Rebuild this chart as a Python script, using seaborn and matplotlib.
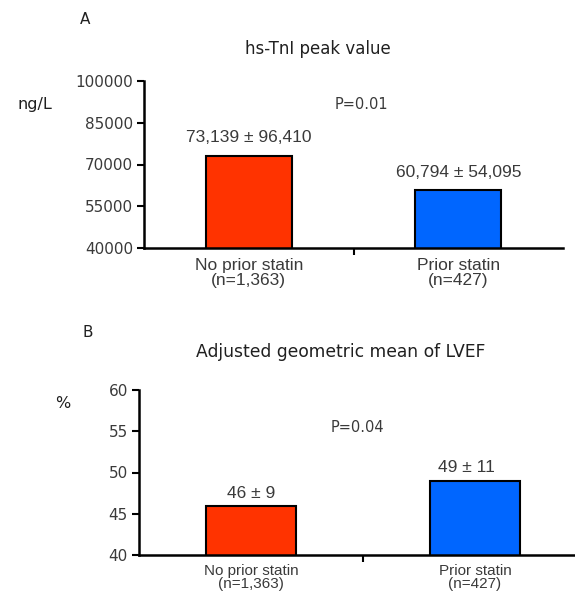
import matplotlib
matplotlib.use("Agg")
import matplotlib.pyplot as plt
import seaborn as sns
import pandas as pd

categories = ["No prior statin\n(n=1,363)", "Prior statin\n(n=427)"]
tnI_values = [73139, 60794]
tnI_labels = ["73,139 ± 96,410", "60,794 ± 54,095"]
lvef_values = [46, 49]
lvef_labels = ["46 ± 9", "49 ± 11"]
tnI_ticks = [40000, 55000, 70000, 85000, 100000]
lvef_ticks = [40, 45, 50, 55, 60]
colors = ["#FF3300", "#0066FF"]

sns.set_theme(style="white")
plt.rcParams['font.family'] = ['DejaVu Sans']

fig = plt.figure(figsize=(5.75, 5.94), dpi=100)
axA = fig.add_axes([144/575, 1-248/594, 419/575, 167/594])
axB = fig.add_axes([139/575, 1-555/594, 448/575, 165/594])

tick_col = "#3a3a3a"
lab_font = ['Liberation Sans', 'DejaVu Sans']

def style(ax, ticks, lo, hi, catsize, ls, pad):
    ax.set_ylim(lo, hi)
    ax.set_xlim(-0.5, 1.5)
    ax.set_yticks(ticks)
    ax.set_yticklabels([str(t) for t in ticks], fontsize=11, color=tick_col)
    for s in ["top", "right"]:
        ax.spines[s].set_visible(False)
    for s in ["left", "bottom"]:
        ax.spines[s].set_color("black")
        ax.spines[s].set_linewidth(1.8)
    ax.tick_params(axis="y", left=True, length=5, width=1.5, color="black", pad=3)
    ax.set_xticks([0, 1])
    ax.set_xticklabels(categories, fontsize=catsize, color=tick_col, family=lab_font, linespacing=ls)
    ax.tick_params(axis="x", bottom=False, pad=pad)
    ax.set_xticks([0.5], minor=True)
    ax.tick_params(axis="x", which="minor", bottom=True, length=5, width=1.5, color="black", direction="out")
    ax.set_xlabel("")
    ax.set_ylabel("")
    ax.grid(False)

dfA = pd.DataFrame({"cat": categories, "val": tnI_values})
sns.barplot(data=dfA, x="cat", y="val", hue="cat", palette=colors, ax=axA, saturation=1,
            width=0.41, edgecolor="black", linewidth=1.5, legend=False)
style(axA, tnI_ticks, 40000, 100000, 12.5, 1.05, 1)
for i, t in enumerate(tnI_labels):
    axA.text(i, tnI_values[i] + 6500, t, ha="center", va="center", fontsize=12.5,
             color=tick_col, family=lab_font)
axA.text(0.536, 91400, "P=0.01", ha="center", va="center", fontsize=10.5, color=tick_col)

dfB = pd.DataFrame({"cat": categories, "val": lvef_values})
sns.barplot(data=dfB, x="cat", y="val", hue="cat", palette=colors, ax=axB, saturation=1,
            width=0.40, edgecolor="black", linewidth=1.5, legend=False)
style(axB, lvef_ticks, 40, 60, 11, 0.9, 0.5)
axB.text(0, 47.5, lvef_labels[0], ha="center", va="center", fontsize=12.5, color=tick_col, family=lab_font)
axB.text(0.96, 50.6, lvef_labels[1], ha="center", va="center", fontsize=12.5, color=tick_col, family=lab_font)
axB.text(0.473, 55.5, "P=0.04", ha="center", va="center", fontsize=10.5, color=tick_col)

fig.text(318/575, 1-49/594, "hs-TnI peak value", ha="center", va="center", fontsize=12, color="#202020")
fig.text(341/575, 1-352/594, "Adjusted geometric mean of LVEF", ha="center", va="center", fontsize=12.3, color="#202020")
fig.text(85/575, 1-20/594, "A", ha="center", va="center", fontsize=11, color="#202020")
fig.text(88/575, 1-333/594, "B", ha="center", va="center", fontsize=11, color="#202020")
fig.text(35/575, 1-104/594, "ng/L", ha="center", va="center", fontsize=11.5, color="#202020")
fig.text(63/575, 1-403/594, "%", ha="center", va="center", fontsize=11.5, color="#202020")

fig.savefig("out.png", dpi=100, facecolor="white")
